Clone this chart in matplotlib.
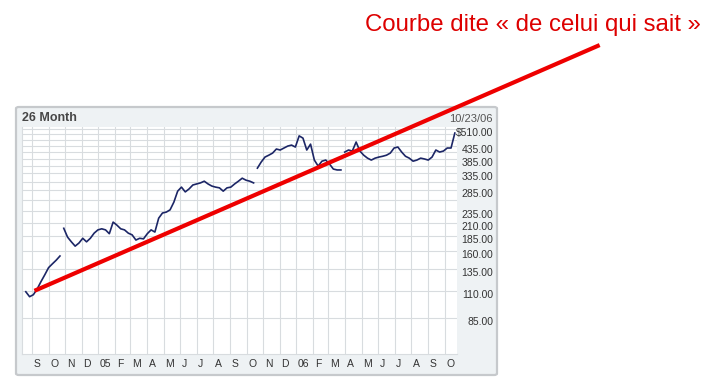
import numpy as np
import pandas as pd
import matplotlib
matplotlib.use('Agg')
import matplotlib.pyplot as plt
import matplotlib.transforms as mtransforms
from matplotlib.patches import FancyBboxPatch

plt.rcParams['font.family'] = ['Liberation Sans', 'DejaVu Sans']

# weekly closes
prices = [109, 104, 106, 112, 120, 128, 137, 142, 147, 153,
          199, 183, 175, 168, 173, 181, 175, 181, 190, 196,
          198, 196, 189, 211, 205, 198, 196, 190, 187, 178,
          181, 180, 189, 196, 192, 219, 230, 232, 237, 255,
          283, 294, 281, 289, 300, 303, 306, 311, 303, 297,
          294, 292, 283, 292, 294, 303, 311, 320, 314, 311,
          306, 352, 373, 391, 398, 406, 422, 418, 426, 434,
          438, 430, 478, 468, 418, 442, 380, 359, 376, 380,
          366, 349, 346, 346, 410, 418, 414, 451, 414, 398,
          387, 380, 387, 391, 394, 398, 406, 426, 430, 410,
          394, 387, 376, 380, 387, 384, 380, 391, 418, 410,
          414, 426, 426, 491]
dates = pd.date_range('2004-08-20', periods=len(prices), freq='7D')
# the original line breaks after these weeks (price jumps)
breaks = [9, 60, 83]

# straight "trend" line drawn by hand on the original
trend_dates = pd.to_datetime(['2004-09-05', '2007-07-14'])
trend_values = [110, 1131]

grid_values = list(range(85, 511, 25))
ytick_values = [510, 435, 385, 335, 285, 235, 210, 185, 160, 135, 110, 85]
month_labels = ['S', 'O', 'N', 'D', '05', 'F', 'M', 'A', 'M', 'J', 'J', 'A', 'S',
                'O', 'N', 'D', '06', 'F', 'M', 'A', 'M', 'J', 'J', 'A', 'S', 'O']

W, H = 724, 389
fig = plt.figure(figsize=(W / 100, H / 100), dpi=100)

# grey panel around the chart
panel = FancyBboxPatch((16 / W, 1 - 375 / H), 481 / W, 268 / H,
                       boxstyle='round,pad=0,rounding_size=0.004',
                       transform=fig.transFigure, facecolor='#eef2f4',
                       edgecolor='#c6c9cc', linewidth=1.6, zorder=-5)
fig.patches.append(panel)

ax = fig.add_axes([22 / W, 1 - 354 / H, (457 - 22) / W, (354 - 127) / H])
ax.set_zorder(1)
ax.set_facecolor('white')
ax.set_yscale('log')
ax.set_ylim(60.4, 520)
ax.set_xlim(pd.Timestamp('2004-08-13'), pd.Timestamp('2006-10-24'))

for v in grid_values:
    ax.axhline(v, color='#d8dcdf', lw=0.8, zorder=1)
month_starts = pd.date_range('2004-09-01', '2006-10-01', freq='MS')
for d in month_starts:
    ax.axvline(d, color='#d8dcdf', lw=0.8, zorder=1)

start = 0
for b in breaks + [len(prices) - 1]:
    ax.plot(dates[start:b + 1], prices[start:b + 1], color='#1c2666', lw=1.2, zorder=3)
    start = b + 1

ax.plot(trend_dates, trend_values, color='#ee0000', lw=3.0,
        solid_capstyle='butt', clip_on=False, zorder=6)

for s in ax.spines.values():
    s.set_visible(False)
ax.spines['left'].set_visible(True)
ax.spines['left'].set_color('#d8dcdf')
ax.spines['bottom'].set_visible(True)
ax.spines['bottom'].set_color('#d8dcdf')

ax.set_yticks([])
ax.yaxis.set_minor_locator(matplotlib.ticker.NullLocator())
ax.set_xticks(month_starts)
ax.set_xticklabels(month_labels)
ax.tick_params(axis='x', length=0, pad=3.5, labelsize=7.5, labelcolor='#333333')
shift = mtransforms.ScaledTranslation(1.5 / 100, 0, fig.dpi_scale_trans)
for lab in ax.get_xticklabels():
    lab.set_horizontalalignment('left')
    lab.set_transform(lab.get_transform() + shift)

# price labels on the right, sitting just under their grid lines
ylab_tr = mtransforms.blended_transform_factory(fig.transFigure, ax.transData) + \
    mtransforms.ScaledTranslation(0, -4 / 100, fig.dpi_scale_trans)
for v in ytick_values:
    txt = ('$%.2f' if v == 510 else '%.2f') % v
    ax.text(493 / W, v, txt, transform=ylab_tr, ha='right', va='center',
            fontsize=7.5, color='#333333', clip_on=False)

fig.text(22 / W, 1 - 118 / H, '26 Month', fontsize=9, fontweight='bold',
         color='#474747', va='center', ha='left')
fig.text(493 / W, 1 - 119 / H, '10/23/06', fontsize=8, color='#555555',
         va='center', ha='right')

fig.text(365 / W, 1 - 25 / H, 'Courbe dite « de celui qui sait »',
         fontsize=17.3, color='#dd0000', va='center', ha='left')

fig.savefig('out.png', dpi=100, facecolor='white')
